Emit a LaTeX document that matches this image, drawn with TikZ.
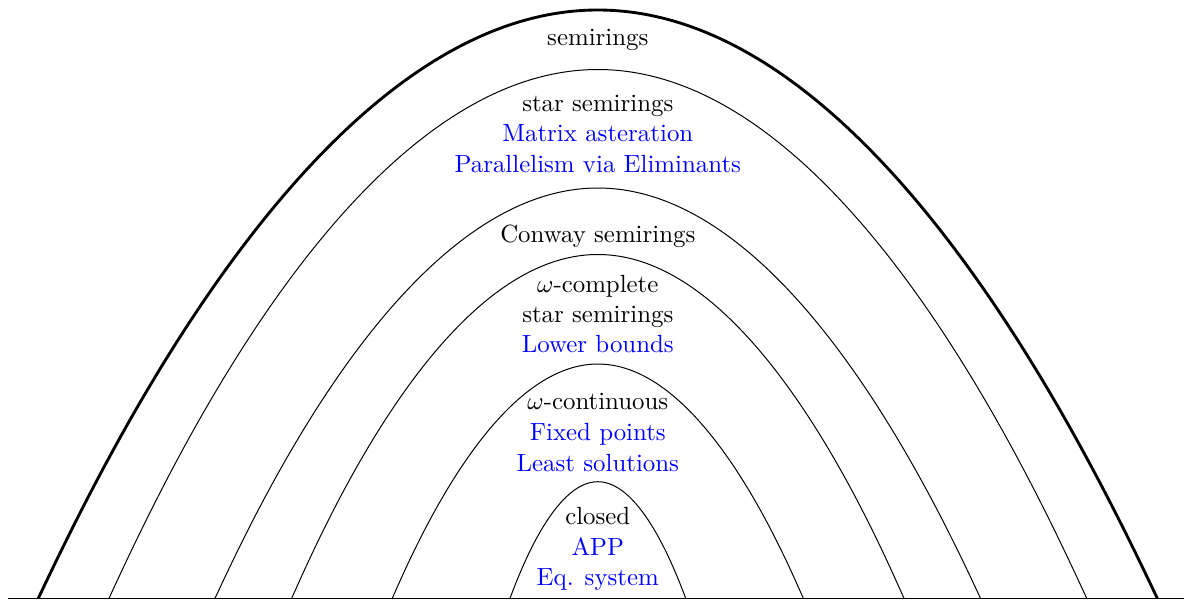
\documentclass[tikz,border=0pt]{standalone}
\begin{document}
\begin{tikzpicture}[x=0.4545pt,y=-0.4545pt,
  txt/.style={anchor=base,inner sep=0pt,scale=1.13,transform shape},
  hl/.style={txt,text=blue},
  inner arc/.style={line width=0.45pt},
  outer arc/.style={line width=1.3pt}]
\useasboundingbox (0,0) rectangle (1184,599);
% ground line
\coordinate (gl) at (8,598.3);
\coordinate (gr) at (1184,598.3);
\draw[line width=0.45pt] (gl) -- (gr);
% arcs
\coordinate (L1) at (38.3,598.3);  \coordinate (T1) at (597.8,10);  \coordinate (R1) at (1157.3,598.3);
\coordinate (L2) at (109,598.3);   \coordinate (T2) at (597.8,69.5); \coordinate (R2) at (1086.7,598.3);
\coordinate (L3) at (215,598.3);   \coordinate (T3) at (597.8,188); \coordinate (R3) at (980.5,598.3);
\coordinate (L4) at (291.7,598.3); \coordinate (T4) at (597.8,254.5); \coordinate (R4) at (904,598.3);
\coordinate (L5) at (392.3,598.3); \coordinate (T5) at (597.8,364); \coordinate (R5) at (803.3,598.3);
\coordinate (L6) at (510,598.3);   \coordinate (T6) at (597.8,481.7); \coordinate (R6) at (685.7,598.3);
\draw[outer arc] (L1) parabola bend (T1) (R1);
\draw[inner arc] (L2) parabola bend (T2) (R2);
\draw[inner arc] (L3) parabola bend (T3) (R3);
\draw[inner arc] (L4) parabola bend (T4) (R4);
\draw[inner arc] (L5) parabola bend (T5) (R5);
\draw[inner arc] (L6) parabola bend (T6) (R6);
% labels
\node[txt] (t1) at (597.8,45) {semirings};
\node[txt] (t2) at (597.8,111) {star semirings};
\node[hl] (t2a) at (597.8,141.5) {Matrix asteration};
\node[hl] (t2b) at (597.8,172) {Parallelism via Eliminants};
\node[txt] (t3) at (597.8,242.7) {Conway semirings};
\node[txt] (t4) at (597.8,292.7) {$\omega$-complete};
\node[txt] (t4a) at (597.8,322.7) {star semirings};
\node[hl] (t4b) at (597.8,352.7) {Lower bounds};
\node[txt] (t5) at (597.8,409.5) {$\omega$-continuous};
\node[hl] (t5a) at (597.8,440) {Fixed points};
\node[hl] (t5b) at (597.8,471.5) {Least solutions};
\node[txt] (t6) at (597.8,524) {closed};
\node[hl] (t6a) at (597.8,555) {APP};
\node[hl] (t6b) at (597.8,585) {Eq. system};
\end{tikzpicture}
\end{document}
